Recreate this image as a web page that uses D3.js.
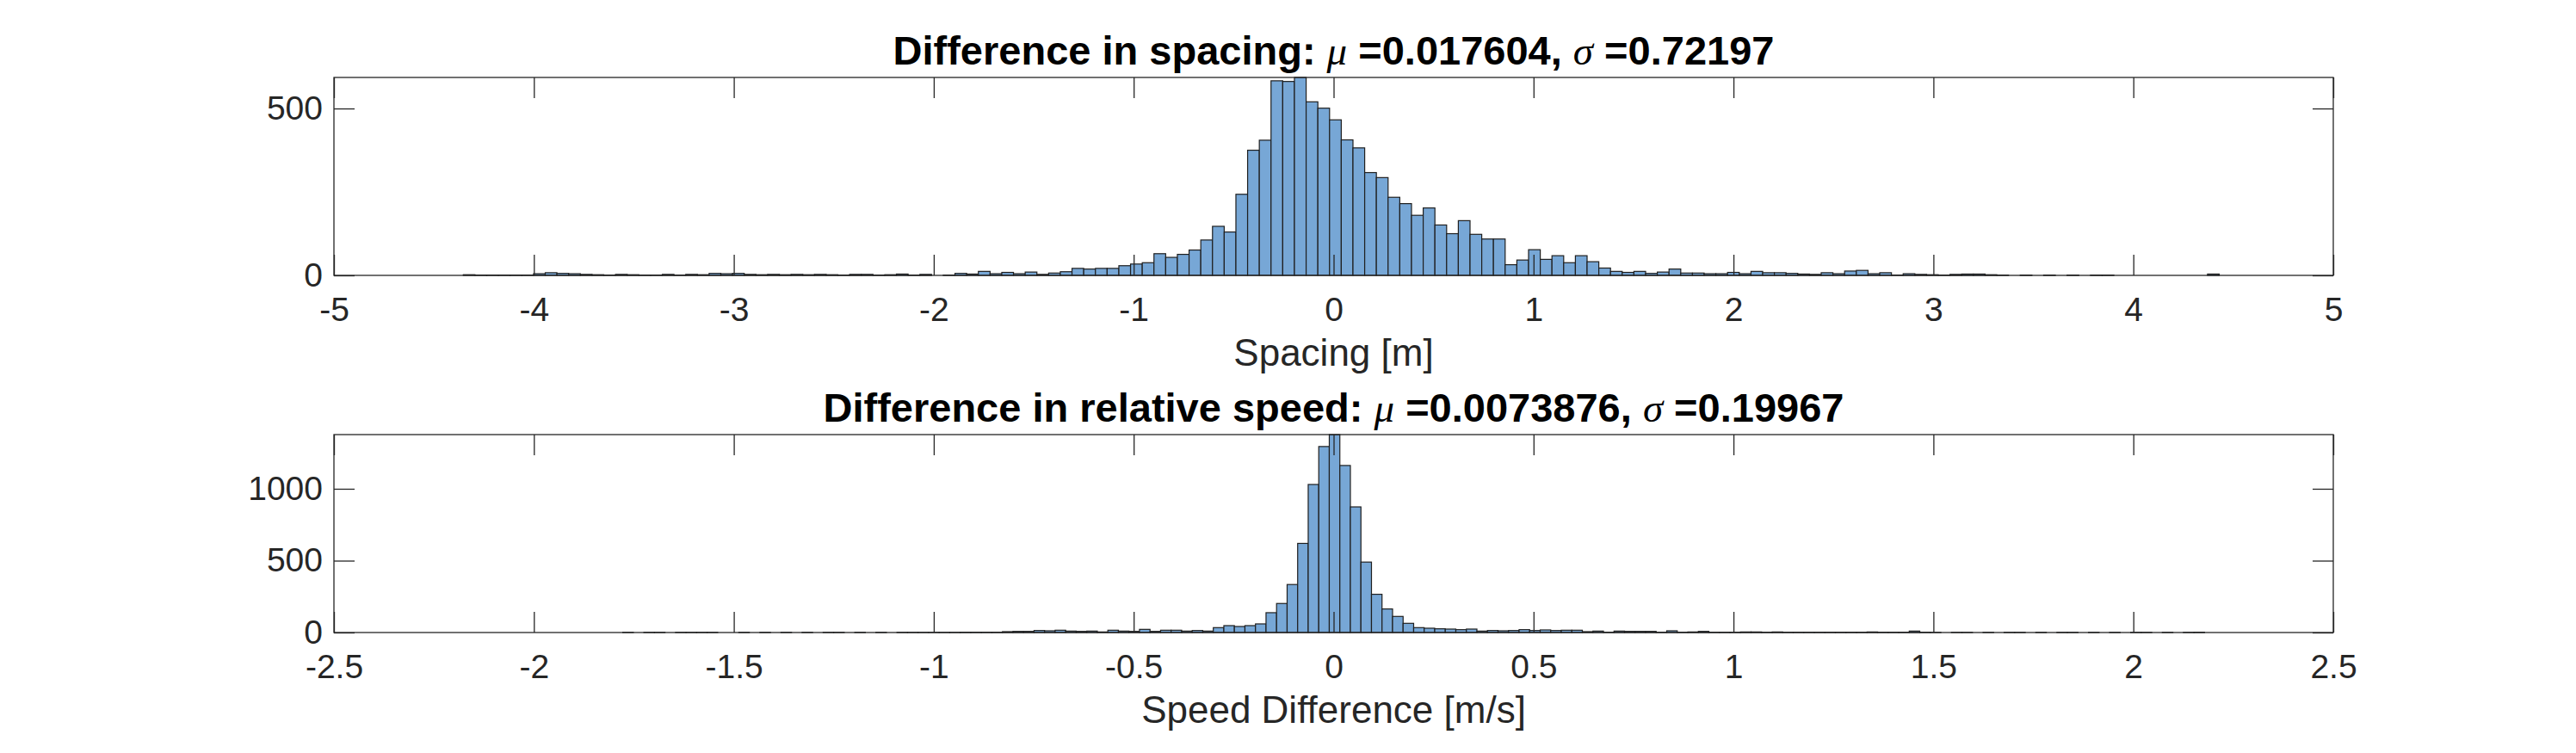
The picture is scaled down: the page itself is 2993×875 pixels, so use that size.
<!DOCTYPE html>
<html><head><meta charset="utf-8">
<script src="https://cdn.jsdelivr.net/npm/d3@7"></script>
<style>html,body{margin:0;padding:0;background:#fff;} svg{display:block}</style>
</head><body>
<svg id="chart" width="2993" height="875"></svg>
<script>
// ---- data ----
const spacingCounts = [
  2,1,1,1,1,1,5,8,6,5, 3,2,1,3,2,1,1,3,1,3,
  2,6,5,6,3,2,3,2,3,2, 3,2,1,3,3,1,2,4,1,3,
  0,1,6,4,12,5,9,5,10,3, 7,11,21,19,21,21,29,34,38,65,
  54,63,76,106,147,130,243,375,405,583, 581,593,520,501,466,406,382,308,293,234,
  215,180,202,151,125,164,123,109,109,32, 46,77,48,59,38,59,41,22,12,9,
  12,6,10,19,7,7,5,5,9,5, 12,8,8,6,4,3,8,5,13,15,
  5,8,1,5,3,2,1,3,4,4, 2,1,0,1,0,1,0,1,0,1,
  1,0,0,0,0,0,0,0,0,4
];
const spacingBinStart = -4.353;
const spacingBinWidth = 0.05855;

const speedCounts = [
  1,0,1,1,0,1,1,1,1,0, 0,1,0,1,0,1,0,1,0,1,
  1,0,1,0,1,0,1,1,1,1, 1,1,2,2,2,2,6,8,8,14,
  12,16,10,8,10,4,16,10,8,22, 8,16,16,10,14,10,34,48,42,48,
  60,138,202,334,620,1030,1294,1377,1162,874, 490,266,164,112,64,34,30,26,24,20,
  24,10,14,12,14,20,14,18,14,16, 16,6,10,2,10,8,8,8,2,12,
  2,4,8,2,2,2,4,4,2,4, 2,2,2,2,2,2,2,2,4,2,
  2,2,10,2,1,0,1,1,0,1, 0,1,1,0,1,0,1,1,0,1,
  0,1,0,1,1,0,1,0,1,2
];
const speedBinStart = -1.7776;
const speedBinWidth = 0.02637;

const spacingXTicks = [-5,-4,-3,-2,-1,0,1,2,3,4,5];
const spacingYTicks = [0,500];
const speedXTicks = [-2.5,-2,-1.5,-1,-0.5,0,0.5,1,1.5,2,2.5];
const speedYTicks = [0,500,1000];

const spacingTitle = ["Difference in spacing: ", "\u03bc", " =0.017604, ", "\u03c3", " =0.72197"];
const speedTitle = ["Difference in relative speed: ", "\u03bc", " =0.0073876, ", "\u03c3", " =0.19967"];
const spacingXLabel = "Spacing [m]";
const speedXLabel = "Speed Difference [m/s]";

// ---- layout ----
const svg = d3.select("#chart");
const L = 388, R = 2711;
const AX = "#262626";
const FONT = "'Liberation Sans', Arial, Helvetica, sans-serif";
const SERIF = "'Liberation Serif', 'DejaVu Serif', serif";
const BAR = "#77a7d6";

const panels = [
  {counts: spacingCounts, start: spacingBinStart, bw: spacingBinWidth, xdom: [-5,5],
   xticks: spacingXTicks, yticks: spacingYTicks, title: spacingTitle, xlabel: spacingXLabel, top: 90, bottom: 320},
  {counts: speedCounts, start: speedBinStart, bw: speedBinWidth, xdom: [-2.5,2.5],
   xticks: speedXTicks, yticks: speedYTicks, title: speedTitle, xlabel: speedXLabel, top: 505, bottom: 735}
];

panels.forEach(p => {
  const x = d3.scaleLinear().domain(p.xdom).range([L, R]);
  const y = d3.scaleLinear().domain([0, d3.max(p.counts)]).range([p.bottom, p.top]);
  const bins = p.counts.map((c, i) => ({x0: p.start + i*p.bw, x1: p.start + (i+1)*p.bw, c}));
  const g = svg.append("g");

  g.selectAll("rect.bar").data(bins).join("rect")
    .attr("class","bar")
    .attr("x", d => x(d.x0))
    .attr("width", d => x(d.x1) - x(d.x0))
    .attr("y", d => y(d.c))
    .attr("height", d => y(0) - y(d.c))
    .attr("fill", BAR)
    .attr("stroke", "#1f1f1f")
    .attr("stroke-width", 1.2);

  const fmt = d => String(d);
  const styleAxis = sel => {
    sel.select(".domain").remove();
    sel.selectAll(".tick line").attr("stroke", AX).attr("stroke-width", 1.3);
    sel.selectAll(".tick text").attr("fill", AX).style("font-family", FONT).style("font-size", "39px");
  };
  g.append("g").attr("transform", `translate(0,${p.bottom})`)
    .call(d3.axisBottom(x).tickValues(p.xticks).tickFormat(fmt).tickSizeInner(-24).tickSizeOuter(0).tickPadding(25))
    .call(styleAxis);
  g.append("g").attr("transform", `translate(0,${p.top})`)
    .call(d3.axisTop(x).tickValues(p.xticks).tickFormat("").tickSizeInner(-24).tickSizeOuter(0))
    .call(styleAxis);
  g.append("g").attr("transform", `translate(${L},0)`)
    .call(d3.axisLeft(y).tickValues(p.yticks).tickFormat(fmt).tickSizeInner(-24).tickSizeOuter(0).tickPadding(13))
    .call(styleAxis);
  g.append("g").attr("transform", `translate(${R},0)`)
    .call(d3.axisRight(y).tickValues(p.yticks).tickFormat("").tickSizeInner(-24).tickSizeOuter(0))
    .call(styleAxis);

  g.append("rect").attr("x", L).attr("y", p.top).attr("width", R - L).attr("height", p.bottom - p.top)
    .attr("fill", "none").attr("stroke", AX).attr("stroke-width", 1.3);

  const t = g.append("text").attr("x", (L+R)/2).attr("y", p.top - 15)
    .attr("text-anchor", "middle").attr("fill", "#000")
    .style("font-family", FONT).style("font-size", "47px").style("font-weight", "bold");
  p.title.forEach((s, i) => {
    const ts = t.append("tspan").text(s);
    if (i % 2 === 1) ts.style("font-family", SERIF).style("font-style", "italic").style("font-weight", "normal");
  });

  g.append("text").attr("x", (L+R)/2).attr("y", p.bottom + 105)
    .attr("text-anchor", "middle").attr("fill", AX)
    .style("font-family", FONT).style("font-size", "44px")
    .text(p.xlabel);
});
</script>
</body></html>
